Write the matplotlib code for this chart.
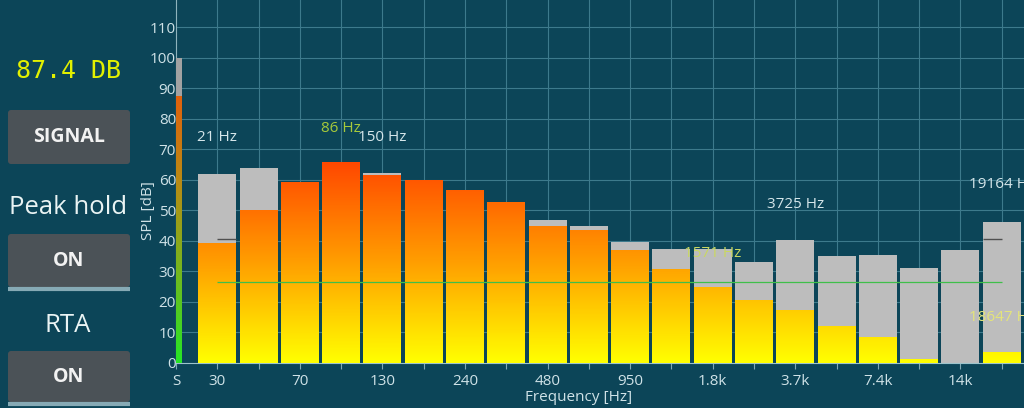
import numpy as np
import matplotlib
matplotlib.use("Agg")
import matplotlib.pyplot as plt
from matplotlib.colors import LinearSegmentedColormap, Normalize
from matplotlib.patches import FancyBboxPatch

plt.rcParams['font.family'] = ['Open Sans', 'DejaVu Sans']

# band data (index 0..19), values in dB
bands = list(range(20))
spl_now = [39.3, 50.0, 59.3, 65.7, 61.5, 59.7, 56.5, 52.7, 44.7, 43.3,
           37.0, 30.7, 24.7, 20.4, 17.1, 12.1, 8.3, 1.0, 0.0, 3.6]
spl_peak = [62.0, 63.8, 59.3, 65.7, 62.2, 59.7, 56.5, 52.7, 46.9, 45.0,
            39.6, 37.4, 37.4, 33.2, 40.2, 35.1, 35.3, 31.3, 37.0, 46.3]
tick_pos = list(range(-1, 20))
tick_labels = ['S', '30', '', '70', '', '130', '', '240', '', '480', '',
               '950', '', '1.8k', '', '3.7k', '', '7.4k', '', '14k', '']
yticks = list(range(0, 120, 10))

# labels of the peak frequencies
peak_text = ['21 Hz', '86 Hz', '150 Hz', '1571 Hz', '3725 Hz', '19164 Hz', '18647 Hz']
peak_text_x = [0, 3, 4, 12, 14, 19, 19]
peak_text_y = [73.8, 77.0, 73.8, 36.0, 51.8, 58.4, 15.0]
peak_text_col = ['#d5e6ea', '#a6c93a', '#d5e6ea', '#c9d860', '#d5e6ea', '#d5e6ea', '#e4e47a']

avg_level = 26.7
level_now = 87.4
level_peak = 100.0
hold_marks_x = [0, 19]
hold_marks_y = [40.5, 40.5]

bg = '#0c4558'
grid_col = '#3d7a8c'
txt_col = '#cfe2e7'

fig = plt.figure(figsize=(10.24, 4.08), dpi=100, facecolor=bg)

# left control panel, drawn in pixel coords
pax = fig.add_axes([0, 0, 1, 1], zorder=-1)
pax.set_xlim(0, 1024)
pax.set_ylim(408, 0)
pax.axis('off')
pax.text(68, 71, '87.4 DB', color='#e2f000', fontsize=18, family='DejaVu Sans Mono',
         ha='center', va='center')
for y0, y1, label, underline in [(110, 164, 'SIGNAL', False), (234, 287, 'ON', True), (351, 402, 'ON', True)]:
    pax.add_patch(FancyBboxPatch((8, y0), 122, y1 - y0, boxstyle='round,pad=0,rounding_size=3',
                                 fc='#4b5257', ec='none'))
    pax.text(69, (y0 + y1) / 2, label, color='#f2f2f2', fontsize=14, fontweight='bold',
             ha='center', va='center')
    if underline:
        pax.plot([8, 130], [y1 + 1.5, y1 + 1.5], color='#86aab5', lw=3, solid_capstyle='butt')
pax.text(68, 207, 'Peak hold', color='#eaf4f4', fontsize=18.5, ha='center', va='center')
pax.text(68, 325, 'RTA', color='#eaf4f4', fontsize=18.5, ha='center', va='center')

# main spectrum axes
ax = fig.add_axes([176 / 1024, 45 / 408, 848 / 1024, 363 / 408])
ax.set_facecolor(bg)
ax.set_xlim(-1.0, 19.54)
ax.set_ylim(0, 119)

for v in bands:
    ax.axvline(v, color=grid_col, lw=0.8, zorder=0)
for v in yticks[1:]:
    ax.axhline(v, color=grid_col, lw=0.8, zorder=0)

w = 0.92
ax.bar(bands, spl_peak, width=w, color='#bdbdbd', zorder=2)

cmap = LinearSegmentedColormap.from_list('spl', [(1.0, 1.0, 0.0), (1.0, 0.62, 0.0), (1.0, 0.28, 0.0)])
norm = Normalize(0, 66)
for b, v in zip(bands, spl_now):
    if v <= 0:
        continue
    grad = np.linspace(v, 0, 200).reshape(-1, 1)
    ax.imshow(grad, cmap=cmap, norm=norm, aspect='auto', interpolation='bilinear',
              extent=(b - w / 2, b + w / 2, 0, v), zorder=3)

# level meter on the y axis
meter_cmap = LinearSegmentedColormap.from_list('meter', [(0.15, 0.9, 0.15), (0.45, 0.72, 0.12),
                                                          (0.72, 0.55, 0.08), (0.88, 0.38, 0.05)])
ax.bar([-0.93], [level_peak], width=0.14, color='#a2a2a2', zorder=3)
grad = np.linspace(1, 0, 200).reshape(-1, 1)
ax.imshow(grad, cmap=meter_cmap, aspect='auto', extent=(-1.0, -0.86, 0, level_now), zorder=4)

# average line and peak hold marks
ax.hlines(avg_level, 0, 19, color='#3fbf4a', lw=0.9, zorder=5)
ax.hlines(hold_marks_y[0], hold_marks_x[0], hold_marks_x[0] + w / 2, color='#505050', lw=1, zorder=5)
ax.hlines(hold_marks_y[1], hold_marks_x[1] - w / 2, hold_marks_x[1], color='#505050', lw=1, zorder=5)

for t, x, y, c in zip(peak_text, peak_text_x, peak_text_y, peak_text_col):
    ax.text(x, y, t, color=c, fontsize=11, ha='center', va='center', zorder=6, clip_on=True)

ax.set_xticks(tick_pos)
ax.set_xticklabels(tick_labels)
ax.set_yticks(yticks)
ax.tick_params(axis='x', colors='#7fa9b5', labelcolor=txt_col, labelsize=11, length=4, pad=4)
ax.tick_params(axis='y', length=0, labelcolor=txt_col, labelsize=11, pad=0)
for s in ['top', 'right']:
    ax.spines[s].set_visible(False)
ax.spines['bottom'].set_color('#9cc4cc')
ax.spines['left'].set_color('#8fb3bd')
ax.spines['bottom'].set_linewidth(0.8)
ax.spines['left'].set_linewidth(0.8)

ax.set_ylabel('SPL [dB]', color=txt_col, fontsize=11)
ax.yaxis.set_label_coords(-0.024, 0.42)
ax.set_xlabel('Frequency [Hz]', color=txt_col, fontsize=11)
ax.xaxis.set_label_coords(0.475, -0.074)

fig.savefig('out.png', dpi=100, facecolor=bg)
